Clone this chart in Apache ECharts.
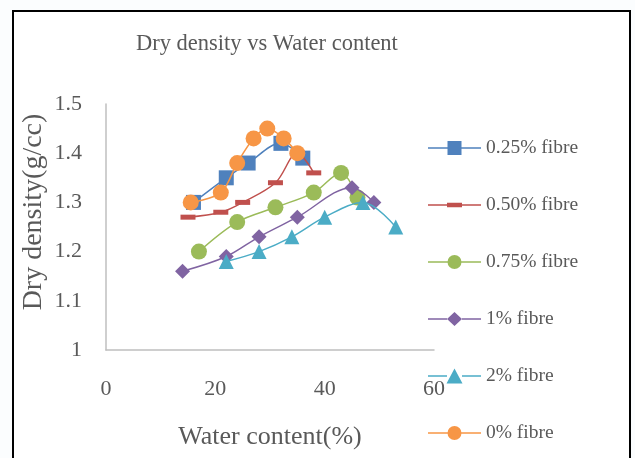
<!DOCTYPE html>
<html>
<head>
<meta charset="utf-8">
<script src="https://cdn.jsdelivr.net/npm/echarts@6/dist/echarts.min.js"></script>
<style>
html,body{margin:0;padding:0;background:#fbfdfe;}
#c{width:635px;height:458px;}
</style>
</head>
<body>
<div id="c"></div>
<script>
// ---- data ----
const seriesNames = ['0.25% fibre','0.50% fibre','0.75% fibre','1% fibre','2% fibre','0% fibre'];
const x025 = [16, 22, 26, 32, 36];
const y025 = [1.30, 1.35, 1.38, 1.42, 1.39];
const x050 = [15, 21, 25, 31, 35, 38];
const y050 = [1.27, 1.28, 1.30, 1.34, 1.40, 1.36];
const x075 = [17, 24, 31, 38, 43, 46];
const y075 = [1.20, 1.26, 1.29, 1.32, 1.36, 1.31];
const x100 = [14, 22, 28, 35, 45, 49];
const y100 = [1.16, 1.19, 1.23, 1.27, 1.33, 1.30];
const x200 = [22, 28, 34, 40, 47, 53];
const y200 = [1.18, 1.20, 1.23, 1.27, 1.30, 1.25];
const x000 = [15.5, 21, 24, 27, 29.5, 32.5, 35];
const y000 = [1.30, 1.32, 1.38, 1.43, 1.45, 1.43, 1.40];
const xTicks = [0, 20, 40, 60];
const yTicks = [1, 1.1, 1.2, 1.3, 1.4, 1.5];

const colors = ['#4F81BD','#C0504D','#9BBB59','#8064A2','#4BACC6','#F79646'];
const FONT = "'Liberation Serif','Times New Roman',serif";
const TXT = '#595959';

function pairs(xs, ys){ return xs.map((v,i)=>[v, ys[i]]); }

// legend icons: line segments + marker, in a 53x15 box
const anchors = 'M0 0 L0.01 0 L0 0.01 Z M53 15 L52.99 15 L53 14.99 Z ';
function lineParts(l, r){
  return 'M0 6.8 L' + l + ' 6.8 L' + l + ' 8.2 L0 8.2 Z M' + r + ' 6.8 L53 6.8 L53 8.2 L' + r + ' 8.2 Z ';
}
const iconSquare = 'path://' + anchors + lineParts(19.5, 33.5) + 'M19.5 0.5 L33.5 0.5 L33.5 14.5 L19.5 14.5 Z';
const iconDash = 'path://' + anchors + lineParts(19, 34) + 'M19 5.2 L34 5.2 L34 9.8 L19 9.8 Z';
const iconCircle = 'path://' + anchors + lineParts(20, 33) + 'M19.5 7.5 A7 7 0 1 1 33.5 7.5 A7 7 0 1 1 19.5 7.5 Z';
const iconDiamond = 'path://' + anchors + lineParts(19, 34) + 'M26.5 0.5 L34 7.5 L26.5 14.5 L19 7.5 Z';
const iconTriangle = 'path://' + anchors + lineParts(19, 34) + 'M26.5 0 L34.5 15 L18.5 15 Z';
const icons = [iconSquare, iconDash, iconCircle, iconDiamond, iconTriangle, iconCircle];

const symbols = ['rect','rect','circle','diamond','triangle','circle'];
const sizes = [15, [15,5], 16, 15, 15, 16];
const dataSets = [pairs(x025,y025), pairs(x050,y050), pairs(x075,y075), pairs(x100,y100), pairs(x200,y200), pairs(x000,y000)];

const chart = echarts.init(document.getElementById('c'));
chart.setOption({
  animation: false,
  backgroundColor: 'transparent',
  graphic: [{
    type: 'rect', z: -10, silent: true,
    shape: {x: 13, y: 11, width: 617, height: 470},
    style: {fill: '#ffffff', stroke: '#000000', lineWidth: 2}
  }],
  title: {
    text: 'Dry density vs Water content',
    left: 136, top: 33, padding: 0,
    textStyle: {fontFamily: FONT, fontSize: 22.5, fontWeight: 'normal', color: TXT}
  },
  legend: {
    orient: 'vertical',
    left: 428, top: 138, padding: 0,
    itemWidth: 53, itemHeight: 15, itemGap: 37,
    textStyle: {fontFamily: FONT, fontSize: 19.5, color: TXT, padding: [0,0,0,0]},
    data: seriesNames.map((n,i)=>({name: n, icon: icons[i]}))
  },
  grid: {left: 106, right: 201, top: 104, bottom: 108, containLabel: false},
  xAxis: {
    type: 'value', min: 0, max: 60, interval: 20,
    name: 'Water content(%)', nameLocation: 'middle', nameGap: 74,
    nameMoveOverlap: false,
    nameTextStyle: {fontFamily: FONT, fontSize: 26, color: TXT},
    axisLine: {show: true, lineStyle: {color: '#BFBFBF', width: 1.5}},
    axisTick: {show: false},
    splitLine: {show: false},
    axisLabel: {fontFamily: FONT, fontSize: 22, color: TXT, margin: 28,
      formatter: v => xTicks.indexOf(v) >= 0 ? String(v) : ''}
  },
  yAxis: {
    type: 'value', min: 1, max: 1.5, interval: 0.1,
    name: 'Dry density(g/cc)', nameLocation: 'middle', nameGap: 58,
    nameMoveOverlap: false,
    nameTextStyle: {fontFamily: FONT, fontSize: 28, color: TXT, padding: [0,0,0,30]},
    axisLine: {show: true, lineStyle: {color: '#BFBFBF', width: 1.5}},
    axisTick: {show: false},
    splitLine: {show: false},
    axisLabel: {fontFamily: FONT, fontSize: 22, color: TXT, margin: 24,
      formatter: v => { const t = yTicks.find(k => Math.abs(k - v) < 1e-9); return t === undefined ? '' : String(t); }}
  },
  series: seriesNames.map((n,i)=>({
    name: n, type: 'line', data: dataSets[i],
    symbol: symbols[i], symbolSize: sizes[i],
    smooth: 0.35,
    color: colors[i],
    itemStyle: {color: colors[i], opacity: 1},
    lineStyle: {color: colors[i], width: 1.5},
    z: 2 + i
  }))
});
</script>
</body>
</html>
